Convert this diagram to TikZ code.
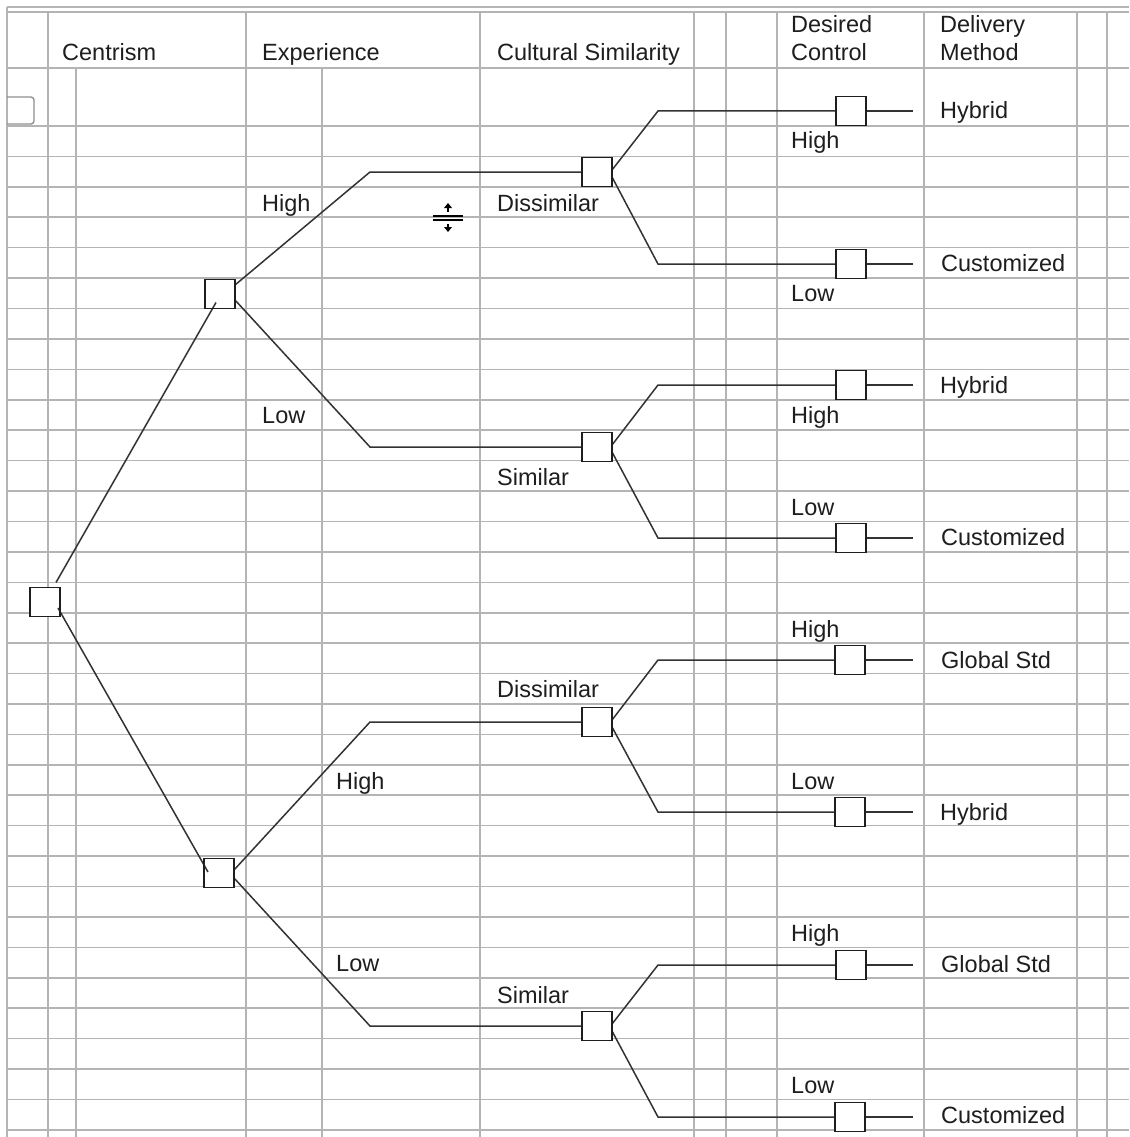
\documentclass[tikz,border=0pt]{standalone}
\usepackage{fontspec}
\setmainfont{Liberation Sans}
\definecolor{gridc}{RGB}{180,180,180}
\definecolor{inkc}{RGB}{30,30,30}
\definecolor{linec}{RGB}{50,50,50}
\begin{document}
\begin{tikzpicture}[x=1pt,y=-1pt,
  gridline/.style={gridc,line width=1.6},
  dbox/.style={draw=inkc,line width=1.8,fill=white,minimum width=30,minimum height=29,inner sep=0,outer sep=0},
  branch/.style={linec,line width=1.5},
  lbl/.style={anchor=base west,inner sep=0,text=inkc,font=\fontsize{23.5}{26}\selectfont}]
\useasboundingbox (0,0) rectangle (1129,1137);
\fill[white] (0,0) rectangle (1129,1137);
% grid
\draw[gridline] (7,7) -- (1129,7);
\draw[gridline] (7,12) -- (1129,12);
\draw[gridline] (7,68) -- (1129,68);
\foreach \k in {0,...,33} {
  \draw[gridline] (7,126+30.42*\k) -- (1129,126+30.42*\k);
}
\draw[gridline] (7,7) -- (7,1137);
\foreach \xx in {48,246,480,694,726,777,924,1077,1107} {
  \draw[gridline] (\xx,12) -- (\xx,1137);
}
\foreach \xx in {76,322} {
  \draw[gridline] (\xx,68) -- (\xx,1137);
}
% clipped box at left
\draw[gridc!80!black,line width=1.4,rounded corners=3] (7,97) -- (34,97) -- (34,124) -- (7,124);
% headers
\node[lbl] (hcen) at (62,61) {Centrism};
\node[lbl] (hexp) at (262,61) {Experience};
\node[lbl] (hcul) at (497,61) {Cultural Similarity};
\node[lbl] (hdes1) at (791,33) {Desired};
\node[lbl] (hdes2) at (791,61) {Control};
\node[lbl] (hdel1) at (940,33) {Delivery};
\node[lbl] (hdel2) at (940,61) {Method};
% bend coordinates
\coordinate (b1u) at (370,172);
\coordinate (b1d) at (370,447);
\coordinate (b2u) at (370,722);
\coordinate (b2d) at (370,1026);
\coordinate (k1) at (658,111);
\coordinate (k2) at (658,264);
\coordinate (k3) at (658,385);
\coordinate (k4) at (658,538);
\coordinate (k5) at (658,660);
\coordinate (k6) at (658,812);
\coordinate (k7) at (658,965);
\coordinate (k8) at (658,1117);
\foreach \i/\yy in {1/111,2/264,3/385,4/538,5/660,6/812,7/965,8/1117} {
  \coordinate (t\i) at (913,\yy);
}
% boxes
\node[dbox] (root) at (45,602) {};
\node[dbox] (e1) at (220,294) {};
\node[dbox] (e2) at (219,873) {};
\node[dbox] (d1) at (597,172) {};
\node[dbox] (s1) at (597,447) {};
\node[dbox] (d2) at (597,722) {};
\node[dbox] (s2) at (597,1026) {};
\node[dbox] (c1) at (851,111) {};
\node[dbox] (c2) at (851,264) {};
\node[dbox] (c3) at (851,385) {};
\node[dbox] (c4) at (851,538) {};
\node[dbox] (c5) at (850,660) {};
\node[dbox] (c6) at (850,812) {};
\node[dbox] (c7) at (851,965) {};
\node[dbox] (c8) at (850,1117) {};
% connectors
\draw[branch] ([xshift=-4,yshift=5]root.north east) -- ([xshift=-4,yshift=6]e1.south);
\draw[branch] ([xshift=-2,yshift=-6]root.east) -- ([xshift=4,yshift=1]e2.west);
\draw[branch] ([yshift=9]e1.east) -- (b1u) -- (d1.west);
\draw[branch] ([yshift=-6]e1.east) -- (b1d) -- (s1.west);
\draw[branch] ([yshift=3]e2.east) -- (b2u) -- (d2.west);
\draw[branch] ([yshift=-5]e2.east) -- (b2d) -- (s2.west);
\draw[branch] ([yshift=2]d1.east) -- (k1) -- (c1.west);
\draw[branch] ([yshift=-5]d1.east) -- (k2) -- (c2.west);
\draw[branch] ([yshift=2]s1.east) -- (k3) -- (c3.west);
\draw[branch] ([yshift=-5]s1.east) -- (k4) -- (c4.west);
\draw[branch] ([yshift=2]d2.east) -- (k5) -- (c5.west);
\draw[branch] ([yshift=-5]d2.east) -- (k6) -- (c6.west);
\draw[branch] ([yshift=2]s2.east) -- (k7) -- (c7.west);
\draw[branch] ([yshift=-5]s2.east) -- (k8) -- (c8.west);
\foreach \i in {1,...,8} { \draw[branch] (c\i.east) -- (t\i); }
% redraw box outlines on top
\foreach \n in {root,e1,e2,d1,s1,d2,s2,c1,c2,c3,c4,c5,c6,c7,c8} {
  \draw[inkc,line width=1.8] (\n.north west) rectangle (\n.south east);
}
% branch labels
\node[lbl] (le1h) at (262,211) {High};
\node[lbl] (le1l) at (262,423) {Low};
\node[lbl] (le2h) at (336,789) {High};
\node[lbl] (le2l) at (336,971) {Low};
\node[lbl] (ld1) at (497,211) {Dissimilar};
\node[lbl] (ls1) at (497,485) {Similar};
\node[lbl] (ld2) at (497,697) {Dissimilar};
\node[lbl] (ls2) at (497,1003) {Similar};
\node[lbl] (lc1) at (791,149) {High};
\node[lbl] (lc2) at (791,301) {Low};
\node[lbl] (lc3) at (791,423) {High};
\node[lbl] (lc4) at (791,515) {Low};
\node[lbl] (lc5) at (791,637) {High};
\node[lbl] (lc6) at (791,789) {Low};
\node[lbl] (lc7) at (791,941) {High};
\node[lbl] (lc8) at (791,1093) {Low};
% outcomes
\node[lbl] (o1) at (940,119) {Hybrid};
\node[lbl] (o2) at (941,271) {Customized};
\node[lbl] (o3) at (940,393) {Hybrid};
\node[lbl] (o4) at (941,545) {Customized};
\node[lbl] (o5) at (941,668) {Global Std};
\node[lbl] (o6) at (940,820) {Hybrid};
\node[lbl] (o7) at (941,972) {Global Std};
\node[lbl] (o8) at (941,1123) {Customized};
% resize cursor
\draw[black,line width=1.4] (433,216) -- (463,216);
\draw[black,line width=1.4] (433,220) -- (463,220);
\draw[black,line width=1.2] (448,206) -- (448,212);
\fill[black] (448,203) -- (452,208) -- (444,208) -- cycle;
\draw[black,line width=1.2] (448,224) -- (448,229);
\fill[black] (448,232) -- (452,227) -- (444,227) -- cycle;
\end{tikzpicture}
\end{document}
